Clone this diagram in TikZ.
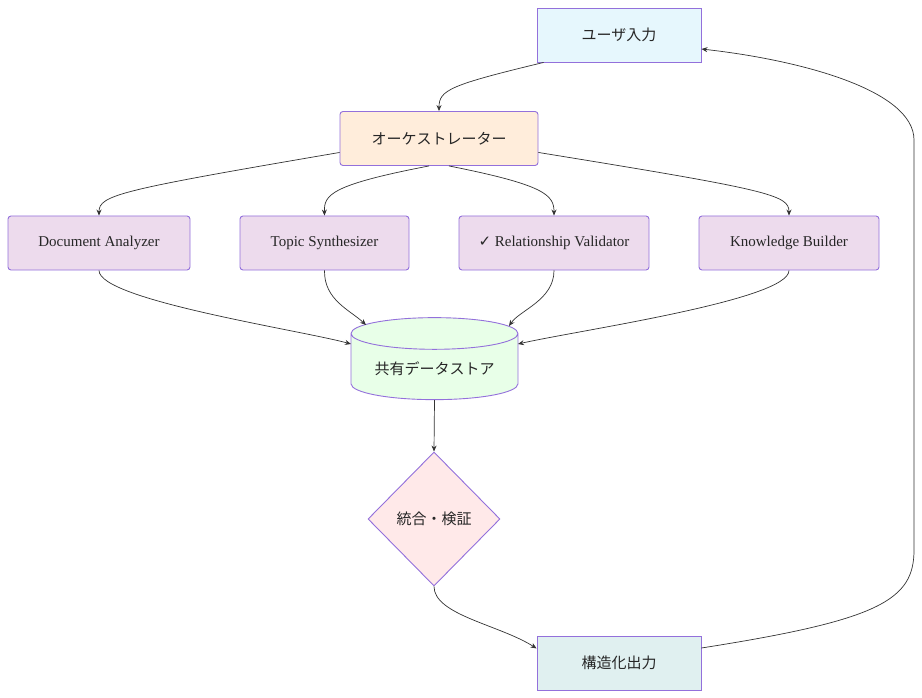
\documentclass[tikz,border=0pt]{standalone}
\usepackage{fontspec}
\setmainfont{Liberation Serif}
\newfontfamily\cjk{Noto Sans CJK JP}
\newfontfamily\sym{DejaVu Sans}
\usetikzlibrary{shapes.geometric,arrows.meta}
\definecolor{bd}{HTML}{9370DB}
\begin{document}
\begin{tikzpicture}[x=1pt,y=-1pt,
 box/.style={draw=bd,line width=0.9pt,minimum height=54pt,font=\fontsize{15}{17}\selectfont,text=black!85},
 rbox/.style={box,rounded corners=3pt,fill=#1},
 e/.style={draw=black!80,-{Stealth[length=6pt,width=5pt]},line width=0.7pt}]
\useasboundingbox (0,0) rectangle (922,698);
\node[box,fill=cyan!10,minimum width=164pt] (u) at (619,35) {\cjk ユーザ入力};
\node[rbox=orange!14,minimum width=198pt] (o) at (439,138.5) {\cjk オーケストレーター};
\node[rbox=violet!14,minimum width=182pt] (da) at (99,243) {Document Analyzer};
\node[rbox=violet!14,minimum width=169pt] (ts) at (324.5,243) {Topic Synthesizer};
\node[rbox=violet!14,minimum width=190pt] (rv) at (554,243) {{\sym\char"2713} Relationship Validator};
\node[rbox=violet!14,minimum width=180pt] (kb) at (789,243) {Knowledge Builder};
\node[box,cylinder,shape border rotate=90,aspect=0.25,fill=green!9,minimum width=167pt,minimum height=82pt] (db) at (434.5,369) {\cjk 共有データストア};
\node[box,diamond,fill=pink!35,minimum width=132pt,minimum height=134pt,inner sep=0pt] (d) at (434,519) {\cjk 統合・検証};
\node[box,fill=teal!12,minimum width=164pt] (out) at (619,663) {\cjk 構造化出力};
\draw[e] (u.200) .. controls (450,85) and (439,90) .. (o.north);
\draw[e] (o.188) .. controls (120,190) and (99,195) .. (da.north);
\draw[e] (o.250) .. controls (330,185) and (324,195) .. (ts.north);
\draw[e] (o.290) .. controls (545,185) and (554,195) .. (rv.north);
\draw[e] (o.352) .. controls (770,190) and (789,195) .. (kb.north);
\draw[e] (da.south) .. controls (99,300) and (300,330) .. (351,344);
\draw[e] (ts.south) .. controls (324,300) and (350,310) .. (366,325);
\draw[e] (rv.south) .. controls (554,300) and (520,310) .. (509,326);
\draw[e] (kb.south) .. controls (789,300) and (580,330) .. (518,344);
\draw[e] (db.bottom) -- (d.north);
\draw[e] (d.south) .. controls (434,615) and (500,625) .. (out.170);
\draw[e] ([yshift=15pt]out.east) .. controls (880,620) and (914,600) .. (914,550) -- (914,140) .. controls (914,90) and (800,60) .. ([yshift=-14pt]u.east);
\end{tikzpicture}
\end{document}
